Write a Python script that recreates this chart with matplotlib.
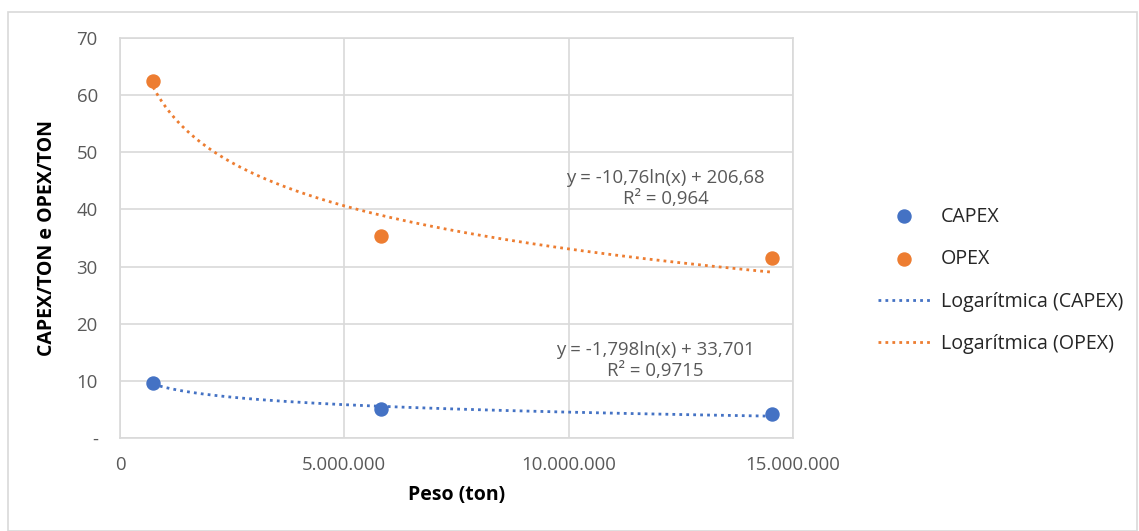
import numpy as np
import matplotlib
matplotlib.use("Agg")
import matplotlib.pyplot as plt
from matplotlib.patches import Rectangle
from matplotlib.ticker import FuncFormatter

peso = [740000, 5810000, 14540000]
capex = [9.6, 5.0, 4.2]
opex = [62.5, 35.4, 31.5]
eq_capex = ["y = -1,798ln(x) + 33,701", "R² = 0,9715"]
eq_opex = ["y = -10,76ln(x) + 206,68", "R² = 0,964"]
series_names = ["CAPEX", "OPEX", "Logarítmica (CAPEX)", "Logarítmica (OPEX)"]

BLUE = "#4472C4"
ORANGE = "#ED7D31"
GRAY = "#595959"
GRID = "#D9D9D9"
FONT = ["Open Sans", "DejaVu Sans"]
plt.rcParams['font.family'] = FONT

W, H = 1139, 531
fig = plt.figure(figsize=(W / 100, H / 100), dpi=100)
fig.patches.append(Rectangle((8 / W, 0), (W - 10) / W, (H - 12) / H, transform=fig.transFigure,
                             fill=False, edgecolor=GRID, linewidth=1.2))
ax = fig.add_axes([120 / W, 1 - 438 / H, (793 - 120) / W, (438 - 38) / H])

ax.scatter(peso, capex, s=88, color=BLUE, zorder=3, label=series_names[0])
ax.scatter(peso, opex, s=88, color=ORANGE, zorder=3, label=series_names[1])

xs = np.linspace(min(peso), max(peso), 300)
for vals, col, name in [(capex, BLUE, series_names[2]), (opex, ORANGE, series_names[3])]:
    b, a = np.polyfit(np.log(peso), vals, 1)
    ax.plot(xs, b * np.log(xs) + a, color=col, linewidth=2, linestyle=(0, (1, 1.5)), label=name)

ax.set_xlim(0, 15000000)
ax.set_ylim(0, 70)
ax.set_xticks([0, 5000000, 10000000, 15000000])
ax.set_yticks(range(0, 71, 10))
ax.xaxis.set_major_formatter(FuncFormatter(lambda v, p: f"{int(v):,}".replace(",", ".")))
ax.yaxis.set_major_formatter(FuncFormatter(lambda v, p: "-" if v == 0 else f"{int(v)}"))
ax.tick_params(length=0, labelsize=13.4, labelcolor=GRAY)
ax.tick_params(axis='y', pad=16)
ax.tick_params(axis='x', pad=13)
ax.grid(True, color=GRID, linewidth=1.2)
ax.set_axisbelow(True)
for s in ax.spines.values():
    s.set_color(GRID)
    s.set_linewidth(1.2)

ax.set_xlabel("Peso (ton)", fontsize=14, fontweight="bold", color="black", labelpad=8)
ax.set_ylabel("CAPEX/TON e OPEX/TON", fontsize=14, fontweight="bold", color="black", labelpad=14)

ax.text(12160000, 43.6, eq_opex[0] + "\n" + eq_opex[1], ha="center", va="center",
        fontsize=13.4, color=GRAY, linespacing=1.2)
ax.text(11940000, 13.6, eq_capex[0] + "\n" + eq_capex[1], ha="center", va="center",
        fontsize=13.4, color=GRAY, linespacing=1.2)

leg = fig.legend(loc="upper left", bbox_to_anchor=(860 / W, 1 - 189 / H), frameon=False,
                 fontsize=14.1, labelspacing=1.15, handlelength=2.7, handletextpad=0.52)
for t in leg.get_texts():
    t.set_color("#262626")

fig.savefig("out.png", dpi=100)
